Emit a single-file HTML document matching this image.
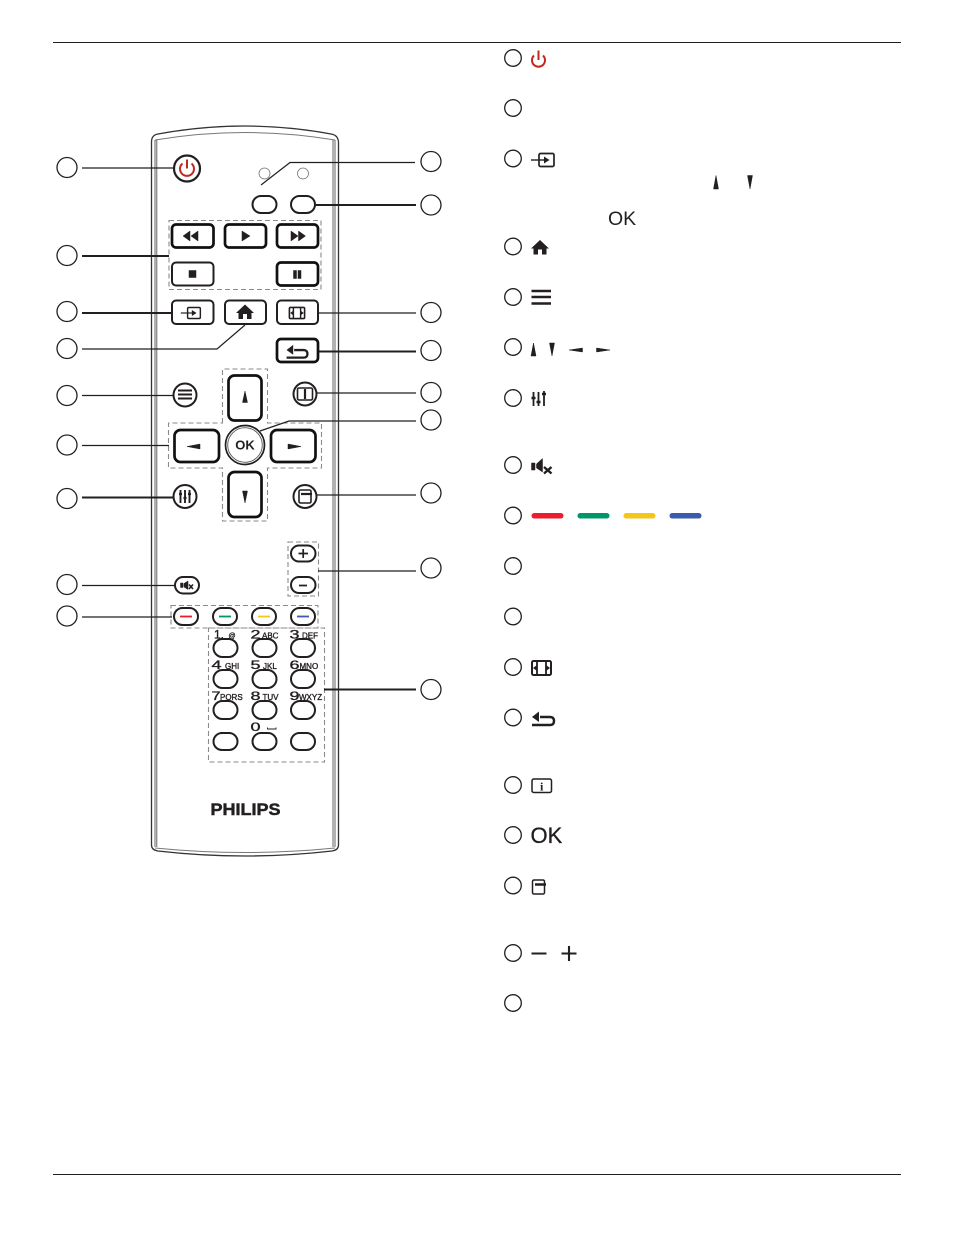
<!DOCTYPE html>
<html><head><meta charset="utf-8"><style>
html,body{margin:0;padding:0;background:#fff}
svg{display:block}
text{font-family:"Liberation Sans",sans-serif;fill:#231f20}
.c{fill:none;stroke:#231f20;stroke-width:1.3}
.l{fill:none;stroke:#231f20;stroke-width:1.2}
.lb{fill:none;stroke:#231f20;stroke-width:1.9}
.d{fill:none;stroke:#8a8a8a;stroke-width:1.1;stroke-dasharray:5 3}
.b{fill:#fff;stroke:#231f20;stroke-width:2}
.bb{fill:#fff;stroke:#111;stroke-width:2.7}
.o{fill:#fff;stroke:#231f20;stroke-width:2}
.i{fill:#231f20;stroke:#231f20;stroke-width:.5}
.k text{stroke:#231f20;stroke-width:.35}
</style></head><body>
<svg width="954" height="1235" viewBox="0 0 954 1235" xmlns="http://www.w3.org/2000/svg">
<defs>
<g id="home"><path d="M0 -7.500 L9 1 L6.500 1 L6.500 7 L2 7 L2 2 L-2 2 L-2 7 L-6.500 7 L-6.500 1 L-9 1 Z" fill="#231f20"/></g>
<g id="format"><rect x="-9.500" y="-7" width="19" height="14" rx="1.500" fill="none" stroke="#231f20" stroke-width="2"/><path d="M-4.500 -7V7M4.500 -7V7" stroke="#231f20" stroke-width="1.800"/><path d="M-8.500 0L-4.500 -3V3ZM8.500 0L4.500 -3V3Z" fill="#231f20"/></g>
<g id="back"><path d="M-11 7H7Q11 7 11 3Q11 -1 7 -1H-3" fill="none" stroke="#231f20" stroke-width="2.400"/><path d="M-4 -6.500V4L-11 -1Z" fill="#231f20"/></g>
<g id="input"><rect x="-4" y="-6.500" width="15" height="13" rx="1.500" fill="none" stroke="#231f20" stroke-width="1.700"/><path d="M-12 0H4" stroke="#231f20" stroke-width="1.400"/><path d="M1 -3.500L6.500 0L1 3.500Z" fill="#231f20"/></g>
</defs>

<path d="M53 42.500H901M53 1174.500H901" stroke="#231f20" stroke-width="1.100"/>

<!-- remote body -->
<path d="M151.500 142 Q151.500 135 158 134 Q245 118 331 134 Q338 135 338.500 142 V845 Q338.500 850 332 851 Q245 861 158 851 Q151.500 850 151.500 845 Z" fill="#fff" stroke="#333" stroke-width="1.300"/>
<path d="M155 140 Q245 125 335 140 M155 848 Q245 857 335 848" fill="none" stroke="#777" stroke-width="1"/>
<path d="M155 140V847M156.800 140V847M333 140V847M335 140V847" fill="none" stroke="#555" stroke-width="0.900"/>

<!-- dashed groups -->
<rect class="d" x="169" y="220.500" width="152" height="69"/>
<path class="d" d="M222.500 423V369H267.500V423H321.500V468H267.500V521H222.500V468H168.500V423Z"/>
<rect class="d" x="288" y="542" width="30.500" height="54"/>
<rect class="d" x="171" y="605.500" width="147" height="22.500"/>
<rect class="d" x="208.500" y="628" width="116" height="134"/>

<!-- leaders left -->
<path class="l" d="M82 168H174"/>
<path class="lb" d="M82 256H169"/>
<path class="lb" d="M82 313H172"/>
<path class="l" d="M82 349H217L245 325"/>
<path class="l" d="M82 395.500H173"/>
<path class="l" d="M82 445.500H169"/>
<path class="lb" d="M82 497.500H173"/>
<path class="l" d="M82 585.500H175"/>
<path class="l" d="M82 617H172"/>
<!-- leaders right -->
<path class="l" d="M261 185L290 162.500H415"/>
<path class="lb" d="M315 205H416"/>
<path class="l" d="M318 313H416"/>
<path class="lb" d="M318 351.500H416"/>
<path class="l" d="M317 393H416"/>
<path class="l" d="M260 431L289 421H416"/>
<path class="l" d="M317 495H416"/>
<path class="l" d="M318 571H416"/>
<path class="lb" d="M324 689.500H416"/>

<!-- power -->
<circle cx="187" cy="168.500" r="13" fill="#fff" stroke="#231f20" stroke-width="2.200"/>
<path d="M182.500 163.500A7 7 0 1 0 191.500 163.500" fill="none" stroke="#c1281d" stroke-width="2"/>
<path d="M187 159.500V168.500" stroke="#c1281d" stroke-width="2"/>
<circle cx="264.500" cy="173.500" r="5.500" fill="#fff" stroke="#777" stroke-width="0.800"/>
<circle cx="303" cy="173.500" r="5.500" fill="#fff" stroke="#777" stroke-width="0.800"/>
<rect class="o" x="252.500" y="196" width="24" height="17" rx="8.500"/>
<rect class="o" x="291" y="196" width="24" height="17" rx="8.500"/>

<!-- playback -->
<rect class="bb" x="172" y="224.500" width="41.500" height="23" rx="4"/>
<rect class="bb" x="225" y="224.500" width="41" height="23" rx="4"/>
<rect class="bb" x="277" y="224.500" width="41" height="23" rx="4"/>
<rect class="b" x="172" y="262.500" width="41.500" height="23" rx="4"/>
<rect class="bb" x="277" y="262.500" width="41" height="23" rx="4"/>
<path class="i" d="M190 231V241L183 236ZM198 231V241L191 236Z"/>
<path class="i" d="M242 231V241L250 236Z"/>
<path class="i" d="M291 231V241L298 236ZM298.500 231V241L305.500 236Z"/>
<rect class="i" x="189" y="270.500" width="7" height="7"/>
<rect class="i" x="293.500" y="270.500" width="3" height="8"/><rect class="i" x="298" y="270.500" width="3" height="8"/>

<rect class="b" x="172" y="300.500" width="41.500" height="23.500" rx="4"/>
<rect class="b" x="225" y="300.500" width="41" height="23.500" rx="4"/>
<rect class="b" x="277" y="300.500" width="41" height="23.500" rx="4"/>
<rect class="bb" x="277" y="339" width="41" height="23" rx="4"/>
<use href="#input" transform="translate(191,313) scale(.85)"/>
<use href="#home" transform="translate(245,312)"/>
<use href="#format" transform="translate(297,313) scale(.8)"/>
<use href="#back" transform="translate(297,351) scale(.95)"/>

<!-- nav -->
<rect class="bb" x="228.500" y="375.500" width="33" height="45" rx="6"/>
<rect class="bb" x="228.500" y="472" width="33" height="45" rx="6"/>
<rect class="bb" x="174.500" y="430" width="44.500" height="32" rx="6"/>
<rect class="bb" x="271" y="430" width="44.500" height="32" rx="6"/>
<path class="i" d="M245 391L247.500 402.500H242.500Z"/>
<path class="i" d="M245 503L247.500 491H242.500Z"/>
<path class="i" d="M187 446.500L200 444V449Z"/>
<path class="i" d="M301 446.500L288 444V449Z"/>
<circle cx="245" cy="445" r="19.500" fill="#fff" stroke="#231f20" stroke-width="1.700"/>
<circle cx="245" cy="445" r="17.300" fill="none" stroke="#555" stroke-width="0.900"/>
<text x="245" y="449.500" font-size="13" font-weight="700" text-anchor="middle">OK</text>

<!-- round buttons -->
<circle cx="185" cy="395" r="11.500" fill="#fff" stroke="#231f20" stroke-width="2"/>
<path d="M178 390.500H192M178 394.500H192M178 398.500H192" stroke="#231f20" stroke-width="2"/>
<circle cx="305" cy="394" r="11.500" fill="#fff" stroke="#231f20" stroke-width="2"/>
<rect x="297.500" y="388" width="15" height="12" rx="1.500" fill="none" stroke="#231f20" stroke-width="1.600"/><path d="M305 389V399" stroke="#231f20" stroke-width="2.200"/>
<circle cx="185" cy="496.500" r="11.500" fill="#fff" stroke="#231f20" stroke-width="2"/>
<path d="M180.500 490V503M185 490V503M189.500 490V503" stroke="#231f20" stroke-width="1.900"/>
<path d="M179 494H182M183.500 498H186.500M188 494H191" stroke="#231f20" stroke-width="2.200"/>
<circle cx="305" cy="496.500" r="11.500" fill="#fff" stroke="#231f20" stroke-width="2"/>
<rect x="299" y="490" width="12" height="13" rx="1.500" fill="none" stroke="#231f20" stroke-width="1.600"/><path d="M301 494H312" stroke="#231f20" stroke-width="2.200"/>

<!-- volume -->
<rect class="o" x="291" y="545.500" width="24.500" height="16" rx="8"/>
<rect class="o" x="291" y="577" width="24.500" height="16" rx="8"/>
<path d="M298.500 553.500H308M303.200 549V558M299 585.500H307" stroke="#231f20" stroke-width="1.700"/>
<rect class="o" x="175" y="577" width="24" height="16.500" rx="8.200"/>
<path class="i" d="M180.500 583H183V587.500H180.500ZM184 583.500L188 581V589.500L184 587Z"/>
<path d="M189 584.500L193 589M193 584.500L189 589" stroke="#231f20" stroke-width="1.600"/>

<!-- colour keys -->
<rect class="o" x="174" y="608" width="24" height="17" rx="8.500"/>
<rect class="o" x="213" y="608" width="24" height="17" rx="8.500"/>
<rect class="o" x="252" y="608" width="24" height="17" rx="8.500"/>
<rect class="o" x="291" y="608" width="24" height="17" rx="8.500"/>
<path d="M180 616.500H192" stroke="#ed1c2e" stroke-width="1.800"/>
<path d="M219 616.500H231" stroke="#00966c" stroke-width="1.800"/>
<path d="M258 616.500H270" stroke="#f5c518" stroke-width="1.800"/>
<path d="M297 616.500H309" stroke="#3a5bae" stroke-width="1.800"/>

<!-- keypad -->
<g>
<rect class="o" x="213.500" y="639" width="24" height="18" rx="9"/><rect class="o" x="252.500" y="639" width="24" height="18" rx="9"/><rect class="o" x="291" y="639" width="24" height="18" rx="9"/>
<rect class="o" x="213.500" y="670" width="24" height="18" rx="9"/><rect class="o" x="252.500" y="670" width="24" height="18" rx="9"/><rect class="o" x="291" y="670" width="24" height="18" rx="9"/>
<rect class="o" x="213.500" y="701" width="24" height="18" rx="9"/><rect class="o" x="252.500" y="701" width="24" height="18" rx="9"/><rect class="o" x="291" y="701" width="24" height="18" rx="9"/>
<rect class="o" x="213.500" y="733" width="24" height="17" rx="8.500"/><rect class="o" x="252.500" y="733" width="24" height="17" rx="8.500"/><rect class="o" x="291" y="733" width="24" height="17" rx="8.500"/>
</g>
<g class="k" font-size="12">
<text x="214" y="638.500">1.</text><text x="228.500" y="638" font-size="7">@</text>
<text x="250.500" y="638.500" textLength="10" lengthAdjust="spacingAndGlyphs">2</text><text x="262" y="638.500" font-size="8">ABC</text>
<text x="289.500" y="638.500" textLength="10" lengthAdjust="spacingAndGlyphs">3</text><text x="302" y="638.500" font-size="8">DEF</text>
<text x="211.500" y="669" textLength="10" lengthAdjust="spacingAndGlyphs">4</text><text x="225" y="669" font-size="8">GHI</text>
<text x="250.500" y="669" textLength="10" lengthAdjust="spacingAndGlyphs">5</text><text x="263" y="669" font-size="8">JKL</text>
<text x="289.500" y="669" textLength="10" lengthAdjust="spacingAndGlyphs">6</text><text x="299.500" y="669" font-size="8">MNO</text>
<text x="211.500" y="700" textLength="9" lengthAdjust="spacingAndGlyphs">7</text><text x="220" y="700" font-size="8">PQRS</text>
<text x="250.500" y="700" textLength="10" lengthAdjust="spacingAndGlyphs">8</text><text x="262.500" y="700" font-size="8">TUV</text>
<text x="289.500" y="700" textLength="10" lengthAdjust="spacingAndGlyphs">9</text><text x="299" y="700" font-size="8">WXYZ</text>
<text x="250.500" y="731" textLength="10" lengthAdjust="spacingAndGlyphs">0</text>
</g>
<path d="M267.500 727.500V729H276V727.500" fill="none" stroke="#231f20" stroke-width="0.900"/>
<text x="210.500" y="815" font-size="16.500" font-weight="700" textLength="70" lengthAdjust="spacingAndGlyphs" style="stroke:#231f20;stroke-width:.5">PHILIPS</text>

<!-- callout circles -->
<g class="c">
<circle cx="67" cy="167.500" r="10"/><circle cx="67" cy="255.500" r="10"/><circle cx="67" cy="311.500" r="10"/><circle cx="67" cy="348.500" r="10"/><circle cx="67" cy="395.500" r="10"/><circle cx="67" cy="445" r="10"/><circle cx="67" cy="498.500" r="10"/><circle cx="67" cy="584.500" r="10"/><circle cx="67" cy="616" r="10"/>
<circle cx="431" cy="161.500" r="10"/><circle cx="431" cy="205" r="10"/><circle cx="431" cy="312.500" r="10"/><circle cx="431" cy="350.500" r="10"/><circle cx="431" cy="392.500" r="10"/><circle cx="431" cy="420" r="10"/><circle cx="431" cy="493" r="10"/><circle cx="431" cy="568" r="10"/><circle cx="431" cy="689.500" r="10"/>
<circle cx="513" cy="58" r="8.300"/><circle cx="513" cy="108" r="8.300"/><circle cx="513" cy="158.500" r="8.300"/><circle cx="513" cy="246.500" r="8.300"/><circle cx="513" cy="297" r="8.300"/><circle cx="513" cy="347" r="8.300"/><circle cx="513" cy="398" r="8.300"/><circle cx="513" cy="465" r="8.300"/><circle cx="513" cy="515.500" r="8.300"/><circle cx="513" cy="566" r="8.300"/><circle cx="513" cy="616.500" r="8.300"/><circle cx="513" cy="667" r="8.300"/><circle cx="513" cy="717.500" r="8.300"/><circle cx="513" cy="785" r="8.300"/><circle cx="513" cy="835" r="8.300"/><circle cx="513" cy="885.500" r="8.300"/><circle cx="513" cy="953" r="8.300"/><circle cx="513" cy="1003" r="8.300"/>
</g>

<!-- right column icons -->
<path d="M534 55.500A6.500 6.500 0 1 0 543 55.500" fill="none" stroke="#c1281d" stroke-width="2"/>
<path d="M538.500 50.500V60" stroke="#c1281d" stroke-width="2"/>
<use href="#input" transform="translate(543,160)"/>
<path class="i" d="M716 175.500L718.500 189H713.500Z"/>
<path class="i" d="M750 189L752.500 175.500H747.500Z"/>
<text x="608" y="225" font-size="19.500">OK</text>
<use href="#home" transform="translate(540,247.500)"/>
<path d="M531.500 291H551M531.500 297H551M531.500 303.500H551" stroke="#231f20" stroke-width="2.600"/>
<path class="i" d="M533.500 343L536 356H531Z"/>
<path class="i" d="M552 356L554.500 343H549.500Z"/>
<path class="i" d="M569 350L582.500 348V352Z"/>
<path class="i" d="M610 350L596.500 348V352Z"/>
<path d="M533.500 392V406M538.500 392V406M544 391V406" stroke="#231f20" stroke-width="1.800"/>
<path d="M531.500 398H535.500M536.500 402H540.500M542 394H546" stroke="#231f20" stroke-width="2.400"/>
<path class="i" d="M531.500 463H535V470H531.500ZM536.500 464L542.500 458.500V472L536.500 468Z"/>
<path d="M544 467L551.500 473.500M551.500 467L544 473.500" stroke="#231f20" stroke-width="2.400"/>
<rect x="531.500" y="513" width="32" height="5.500" rx="2.700" fill="#ed1c2e"/>
<rect x="577.500" y="513" width="32" height="5.500" rx="2.700" fill="#00966c"/>
<rect x="623.500" y="513" width="32" height="5.500" rx="2.700" fill="#f5c518"/>
<rect x="669.500" y="513" width="32" height="5.500" rx="2.700" fill="#3a5bae"/>
<use href="#format" transform="translate(541.500,668)"/>
<use href="#back" transform="translate(543,718)"/>
<rect x="532" y="779" width="19.500" height="13.500" rx="1.800" fill="none" stroke="#231f20" stroke-width="1.500"/>
<text x="541.700" y="790.500" font-size="12" font-weight="700" text-anchor="middle" style="font-family:'Liberation Serif',serif">i</text>
<text x="530.500" y="843" font-size="22" style="stroke:#231f20;stroke-width:.3">OK</text>
<rect x="532.500" y="880" width="12" height="14" rx="1.500" fill="none" stroke="#231f20" stroke-width="1.500"/>
<path d="M535 884.500H546" stroke="#231f20" stroke-width="2.500"/>
<path d="M531.500 953.500H546.500M561.500 953.500H576.500M569 946V961" stroke="#231f20" stroke-width="2.100"/>
</svg>
</body></html>
